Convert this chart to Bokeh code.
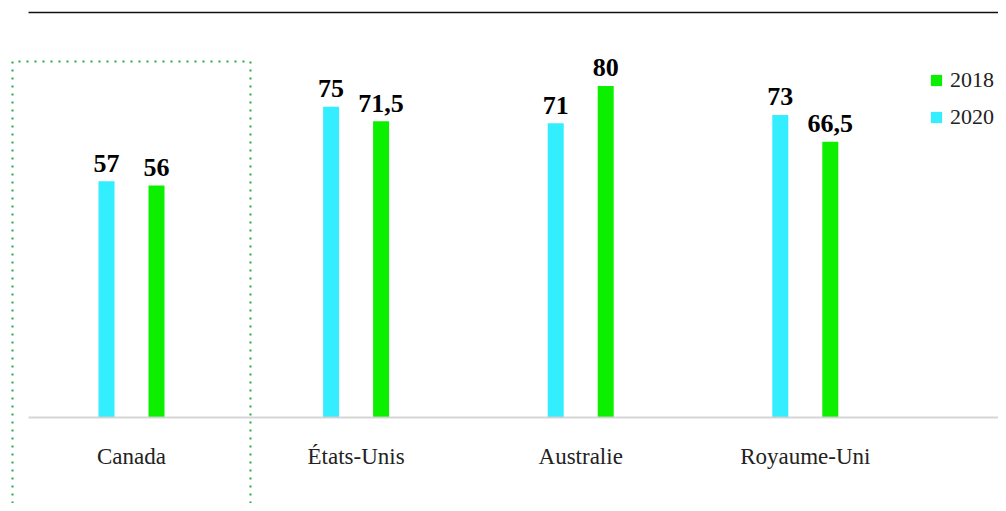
from bokeh.plotting import figure
from bokeh.models import ColumnDataSource, Range1d, Legend, LegendItem
from bokeh.transform import dodge
from bokeh.core.properties import value
from bokeh.embed import file_html
from bokeh.resources import INLINE

# ---- data ----
countries = ["Canada", "États-Unis", "Australie", "Royaume-Uni"]
values_2020 = [57, 75, 71, 73]
values_2018 = [56, 71.5, 80, 66.5]
labels_2020 = ["57", "75", "71", "73"]
labels_2018 = ["56", "71,5", "80", "66,5"]
highlight = "Canada"

C2020 = "#33eeff"
C2018 = "#0cf000"
SERIF = "Liberation Serif"

idx = list(range(len(countries)))
src = ColumnDataSource(dict(x=idx, cat=countries, v20=values_2020, v18=values_2018,
                            l20=labels_2020, l18=labels_2018, zero=[0] * len(idx)))

W, H = 998, 503
px_per_cat = 224.6
xs = -131 / px_per_cat
xe = xs + W / px_per_cat
py = 4.145
ye = 417 / py
ys = ye - H / py

p = figure(width=W, height=H, output_backend="svg", toolbar_location=None,
           x_range=Range1d(xs, xe), y_range=Range1d(ys, ye),
           min_border=0, outline_line_color=None)
p.xaxis.visible = False
p.yaxis.visible = False
p.xgrid.visible = False
p.ygrid.visible = False
p.background_fill_color = "white"

off = 25 / px_per_cat
bw = 16 / px_per_cat

r20 = p.vbar(x=dodge("x", -off), top="v20", bottom=0, width=bw, source=src,
             fill_color=C2020, line_color=None)
r18 = p.vbar(x=dodge("x", off), top="v18", bottom=0, width=bw, source=src,
             fill_color=C2018, line_color=None)

# value labels
for ycol, lcol, o in [("v20", "l20", -off), ("v18", "l18", off)]:
    p.text(x=dodge("x", o), y=ycol, text=lcol, source=src,
           text_font=value(SERIF), text_font_style="bold", text_font_size="26px",
           text_align="center", text_baseline="alphabetic", y_offset=-18,
           text_color="#000000")

# category labels
p.text(x="x", y="zero", text="cat", source=src, text_font=value(SERIF),
       text_font_size="23px", text_align="center", text_baseline="alphabetic",
       y_offset=39, text_color="#222222")

# baseline and top rule
x0 = (28 - 131) / px_per_cat
x1 = (1000 - 131) / px_per_cat
p.segment(x0=[x0], y0=[0], x1=[x1], y1=[0], line_color="#d0d0d0", line_width=2, line_alpha=0.9)
ytop = (417 - 12) / py
p.segment(x0=[x0], y0=[ytop], x1=[x1], y1=[ytop], line_color="#111111", line_width=1.5)

# dotted highlight box around Canada
hi = countries.index(highlight)
bx = 119 / px_per_cat
by = (417 - 61) / py
p.line(x=[hi - bx, hi - bx, hi + bx, hi + bx], y=[ys, by, by, ys],
       line_color="#22aa44", line_width=2, line_dash="2 6", line_cap="butt")

legend = Legend(items=[LegendItem(label="2018", renderers=[r18]),
                       LegendItem(label="2020", renderers=[r20])],
                location=(929, 373), glyph_width=14, glyph_height=14, label_height=14,
                label_width=40, spacing=11, padding=0, margin=0, border_line_color=None,
                background_fill_alpha=0, label_standoff=7,
                label_text_font=SERIF, label_text_font_size="22px",
                label_text_color="#222222")
p.add_layout(legend)

open("out.html", "w").write(file_html(p, INLINE))
